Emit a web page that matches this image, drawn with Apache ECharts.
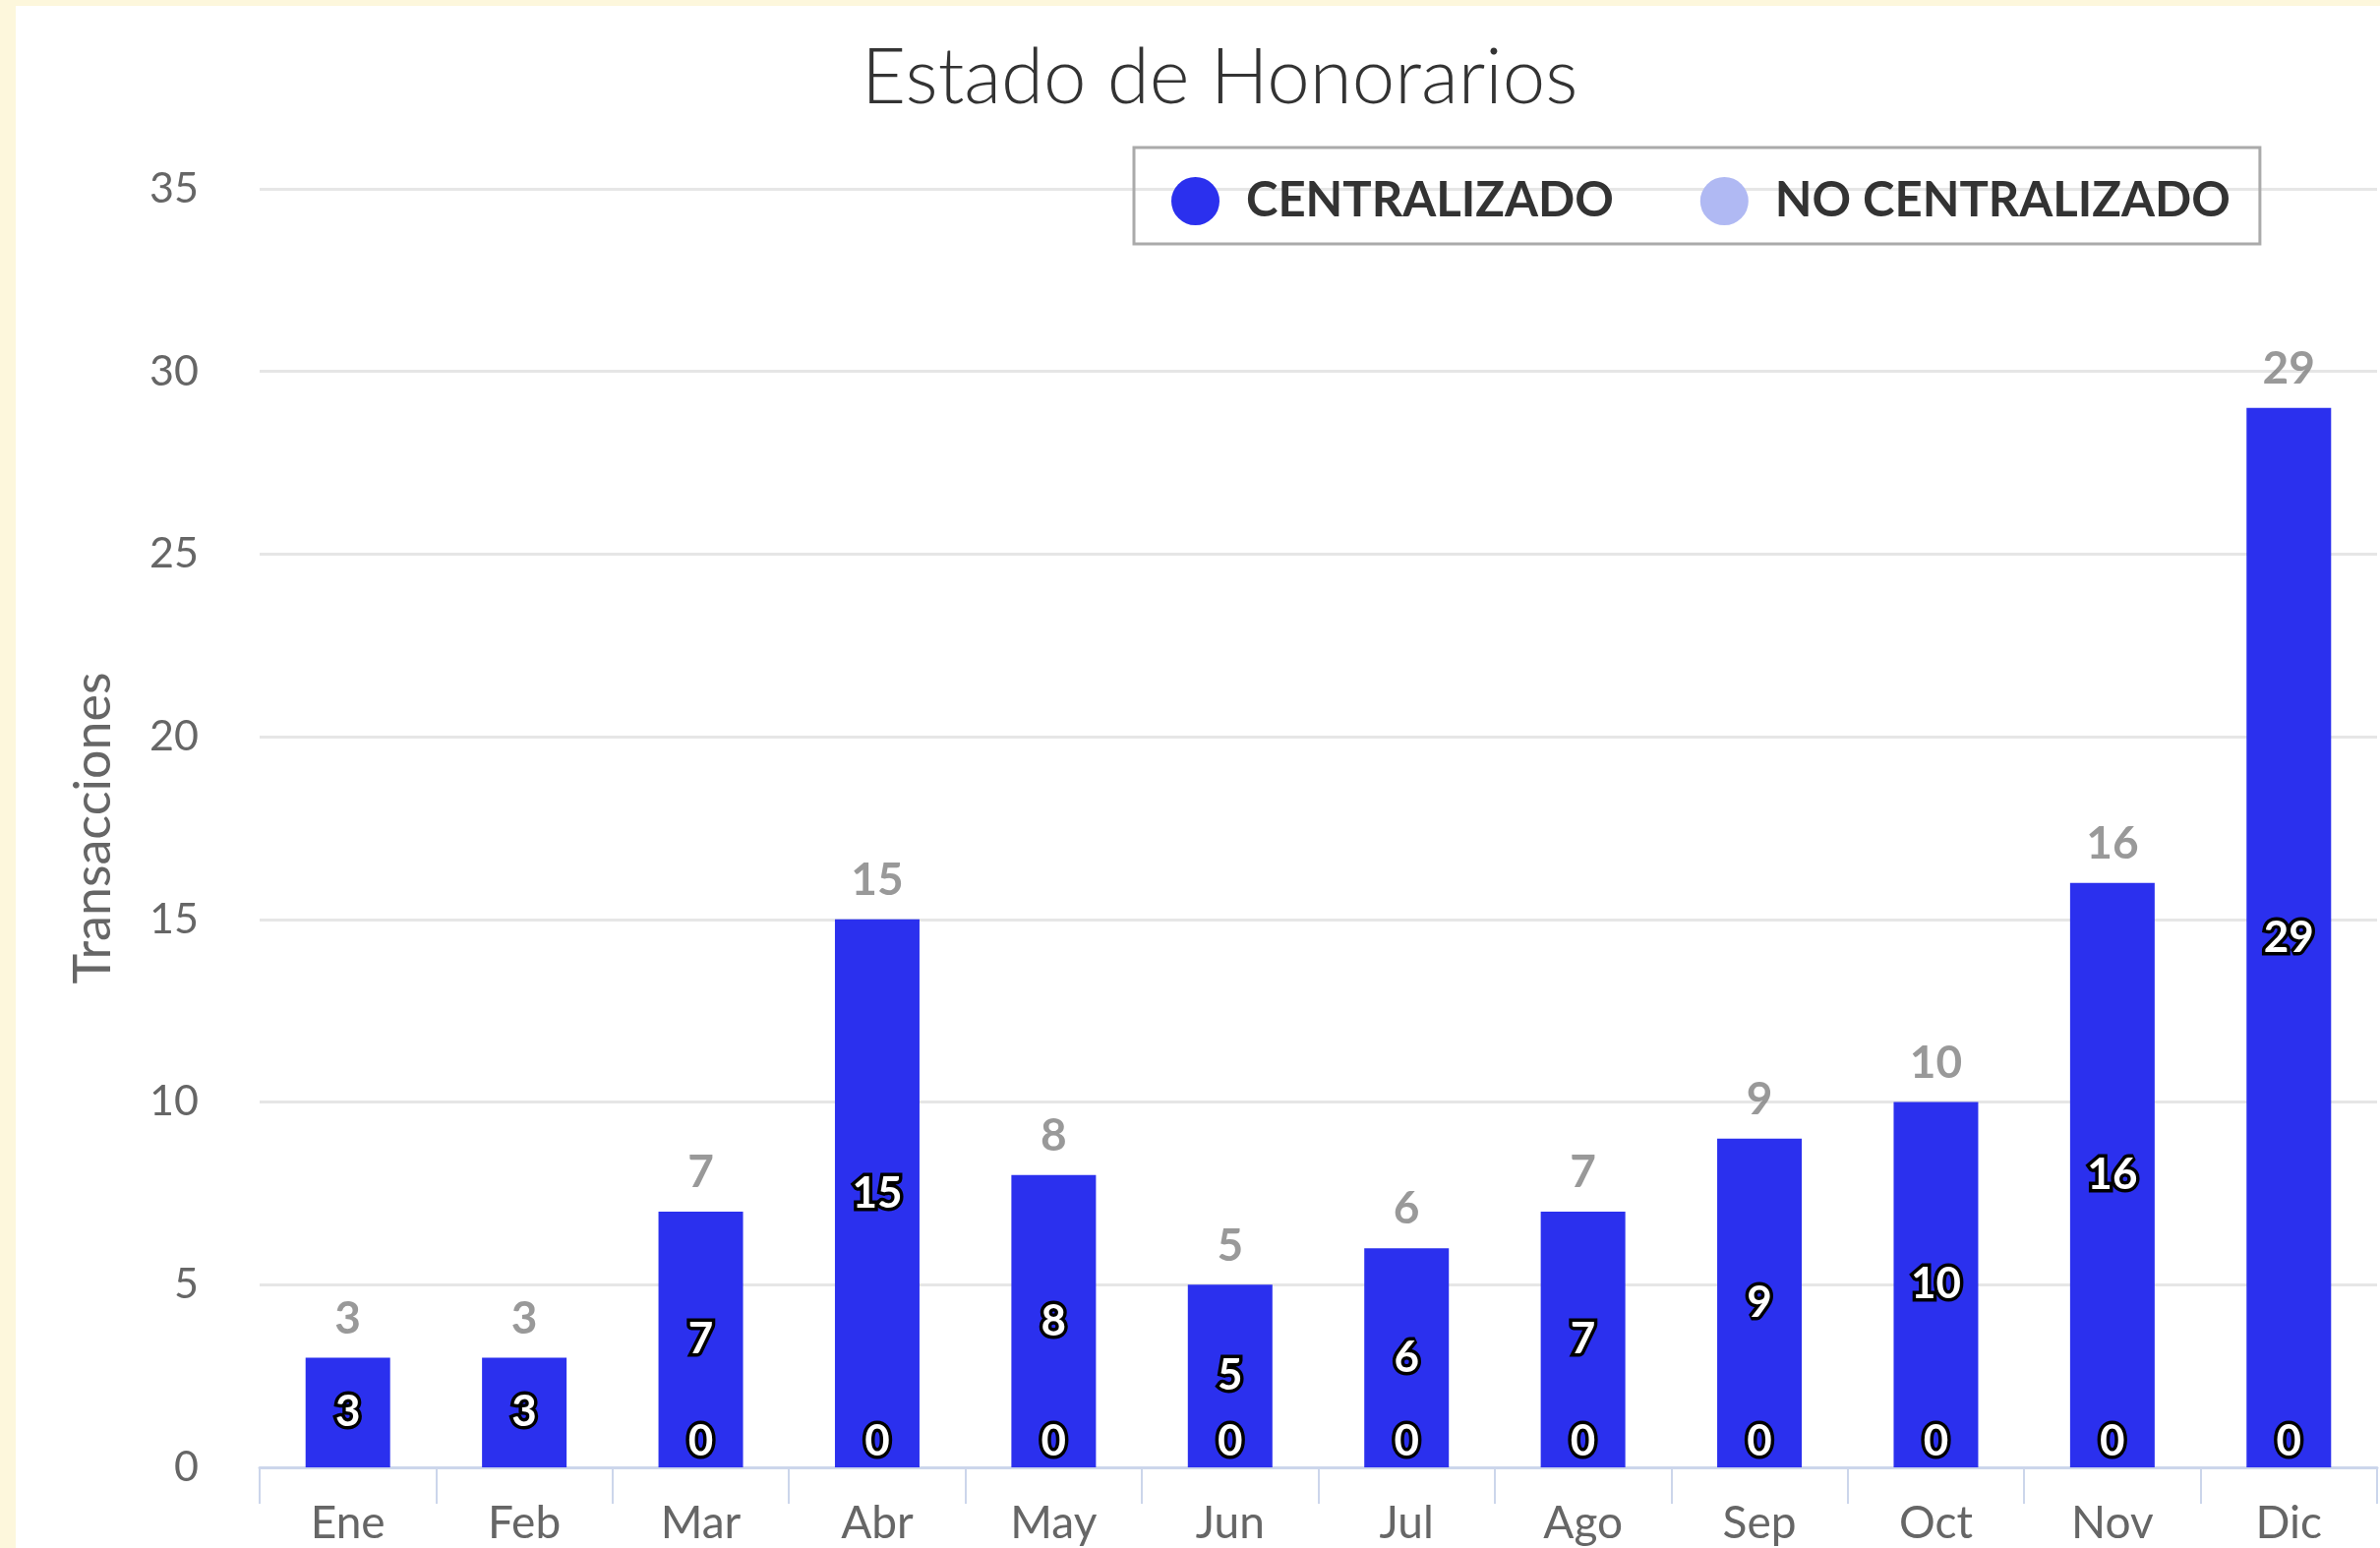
<!DOCTYPE html>
<html>
<head>
<meta charset="utf-8">
<script src="https://cdn.jsdelivr.net/npm/echarts@6/dist/echarts.min.js"></script>
<style>
  html, body { margin: 0; padding: 0; background: #fdf7dc; }
  #chart { position: absolute; left: 16px; top: 6px; width: 2404px; height: 1568px; background: #fff; }
</style>
</head>
<body>
<div id="chart"></div>
<script>
const months = ['Ene', 'Feb', 'Mar', 'Abr', 'May', 'Jun', 'Jul', 'Ago', 'Sep', 'Oct', 'Nov', 'Dic'];
const centralizado = [3, 3, 7, 15, 8, 5, 6, 7, 9, 10, 16, 29];
const noCentralizado = [0, 0, 0, 0, 0, 0, 0, 0, 0, 0, 0, 0];
const seriesNames = ['CENTRALIZADO', 'NO CENTRALIZADO'];
const totals = months.map((m, i) => centralizado[i] + noCentralizado[i]);

const font = 'Lato, "Open Sans", sans-serif';

const insideLabel = {
  show: true,
  color: '#fff',
  fontFamily: font,
  fontWeight: 'bold',
  fontSize: 44,
  textBorderColor: '#000',
  textBorderWidth: 7
};

const chart = echarts.init(document.getElementById('chart'));

chart.setOption({
  animation: false,
  title: {
    text: 'Estado de Honorarios',
    left: 855,
    top: 30,
    textStyle: { fontFamily: font, fontWeight: 300, fontSize: 78, color: '#333' }
  },
  legend: {
    data: seriesNames,
    left: 1137,
    top: 144,
    padding: [30, 30, 19, 38],
    borderColor: '#aaa',
    borderWidth: 3,
    itemGap: 88,
    icon: 'circle',
    itemWidth: 49,
    itemHeight: 49,
    textStyle: { fontFamily: font, fontWeight: 'bold', fontSize: 49, color: '#333', padding: [0, 0, 0, 22] }
  },
  grid: { left: 248, right: 3, top: 186, bottom: 82 },
  xAxis: {
    type: 'category',
    data: months,
    axisLine: { lineStyle: { color: '#ccd6eb', width: 3 } },
    axisTick: { show: true, length: 37, lineStyle: { color: '#ccd6eb', width: 2 } },
    axisLabel: { fontFamily: font, fontSize: 46, color: '#666', margin: 34 }
  },
  yAxis: {
    type: 'value',
    min: 0,
    max: 35,
    interval: 5,
    name: 'Transacciones',
    nameLocation: 'middle',
    nameGap: 143,
    nameTextStyle: { fontFamily: font, fontSize: 52, color: '#666' },
    axisLine: { show: false },
    axisTick: { show: false },
    axisLabel: { fontFamily: font, fontSize: 43, color: '#666', margin: 62 },
    splitLine: { lineStyle: { color: '#e6e6e6', width: 3 } }
  },
  series: [
    {
      name: seriesNames[1],
      type: 'bar',
      stack: 'total',
      barWidth: 86,
      data: noCentralizado,
      itemStyle: { color: '#b0b9f3' },
      label: Object.assign({}, insideLabel, { position: 'insideBottom', distance: 4 }),
      labelLayout: { hideOverlap: true }
    },
    {
      name: seriesNames[0],
      type: 'bar',
      stack: 'total',
      barWidth: 86,
      data: centralizado,
      itemStyle: { color: '#2b30ee' },
      label: Object.assign({}, insideLabel, { position: 'inside' }),
      labelLayout: { hideOverlap: true }
    },
    {
      name: 'total',
      type: 'scatter',
      data: totals,
      symbolSize: 1,
      itemStyle: { color: 'rgba(0,0,0,0)' },
      silent: true,
      z: 5,
      label: {
        show: true,
        position: 'top',
        distance: 16,
        fontFamily: font,
        fontWeight: 'bold',
        fontSize: 46,
        color: '#808080'
      }
    }
  ]
});
</script>
</body>
</html>
